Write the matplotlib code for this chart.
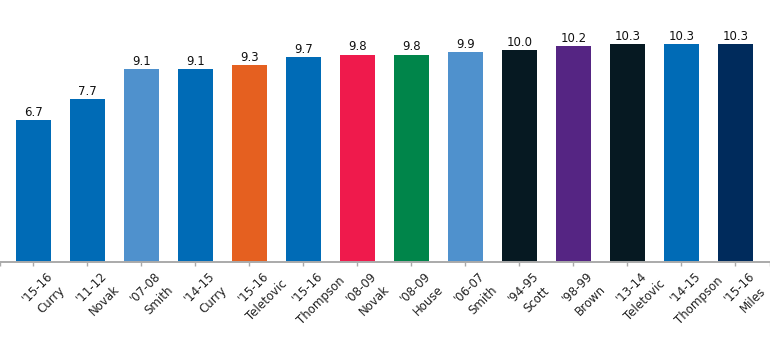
import matplotlib
matplotlib.use('Agg')
import matplotlib.pyplot as plt
import numpy as np

# player seasons (season, name) and values
seasons = ["'15-16", "'11-12", "'07-08", "'14-15", "'15-16", "'15-16", "'08-09",
	"'08-09", "'06-07", "'94-95", "'98-99", "'13-14", "'14-15", "'15-16"]
players = ["Curry", "Novak", "Smith", "Curry", "Teletovic", "Thompson", "Novak",
	"House", "Smith", "Scott", "Brown", "Teletovic", "Thompson", "Miles"]
values = [6.7, 7.7, 9.1, 9.1, 9.3, 9.7, 9.8, 9.8, 9.9, 10.0, 10.2, 10.3, 10.3, 10.3]
colors = ['#006bb6', '#006bb6', '#4f91cd', '#006bb6', '#e56020', '#006bb6', '#ef1a4c',
	'#00854a', '#4f91cd', '#061922', '#552583', '#061922', '#006bb6', '#002b5c']

fig = plt.figure(figsize=(7.7, 3.53), dpi=100)
ax = fig.add_axes([0.0, 0.2578, 1.0, 0.7195])

x = np.arange(len(values))
ax.bar(x, values, width=0.65, color=colors)

#value labels above each bar
for i in range(len(values)):
	ax.annotate('%.1f' % values[i], (x[i], values[i]), xytext=(0, 3), textcoords='offset points',
		ha='center', va='baseline', fontsize=8.5, color='#111111')

ax.set_xlim(-0.62, 13.64)
ax.set_ylim(0, 12)

labels = [seasons[i] + '\n' + players[i] for i in range(len(values))]
ax.set_xticks(x)
ax.set_xticklabels(labels, rotation=45, rotation_mode='anchor', ha='center', va='top',
	fontsize=8.5, color='#222222', linespacing=1.5)
ax.set_xticks([-0.62, 13.64], minor=True)
ax.tick_params(axis='x', which='both', length=3, width=1, color='#aaaaaa', pad=12)

for s in ['top', 'right', 'left']:
	ax.spines[s].set_visible(False)
ax.spines['bottom'].set_color('#aaaaaa')
ax.spines['bottom'].set_linewidth(1.4)
ax.set_yticks([])

plt.savefig('out.png', dpi=100)
